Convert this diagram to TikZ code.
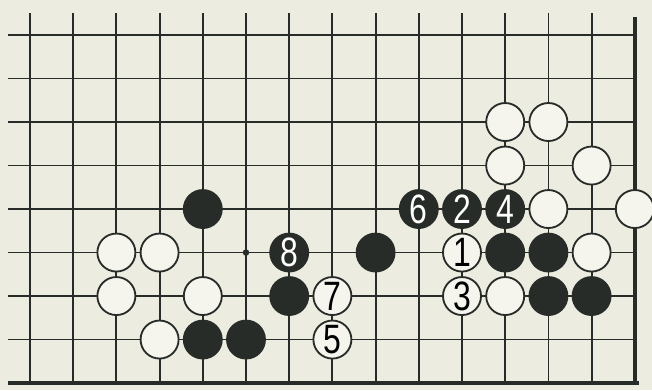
\documentclass[tikz,border=0pt]{standalone}
\usepackage{fontspec}
\setmainfont{Liberation Sans}
\definecolor{paper}{RGB}{236,236,224}
\definecolor{ink}{RGB}{40,44,40}
\newcommand{\dig}[1]{\scalebox{0.78}[1]{#1}}
\tikzset{
  gridline/.style={draw=ink, line width=1.2pt},
  edgeline/.style={draw=ink, line width=2.4pt},
  wstone/.style={circle, draw=ink, line width=1.2pt, fill=paper!55!white,
    minimum size=0.88cm, inner sep=0pt,
    font=\fontsize{27}{27}\selectfont},
  bstone/.style={circle, draw=ink, fill=ink, line width=1.2pt,
    minimum size=0.88cm, inner sep=0pt, text=white,
    font=\fontsize{27}{27}\selectfont}
}
\begin{document}
\begin{tikzpicture}[x=1cm, y=1.007cm]
        % paper
        \fill[paper] (-0.694,0.805) rectangle (14.398,-8.161);
        \useasboundingbox (-0.694,0.805) rectangle (14.398,-8.161);

        % grid
        \foreach \i in {0,...,13}
          \draw[gridline] (\i,0.5) -- (\i,-8);
        \foreach \j in {0,...,7}
          \draw[gridline] (-0.5,-\j) -- (14,-\j);
        \draw[edgeline] (14,0.41) -- (14,-8);
        \draw[edgeline] (-0.5,-8) -- (14.1,-8);
        \fill[ink] (5,-5) circle (0.075);

        % white stones
        \foreach \i/\j in {11/2,12/2,11/3,13/3,12/4,14/4,2/5,3/5,13/5,
                           2/6,4/6,11/6,3/7}
          \node[wstone] (w\i-\j) at (\i,-\j) {};

        % black stones
        \foreach \i/\j in {4/4,8/5,11/5,12/5,6/6,12/6,13/6,4/7,5/7}
          \node[bstone] (b\i-\j) at (\i,-\j) {};

        % numbered moves
        \node[wstone] (m1) at (10,-5) {\dig{1}};
        \node[bstone] (m2) at (10,-4) {\dig{2}};
        \node[wstone] (m3) at (10,-6) {\dig{3}};
        \node[bstone] (m4) at (11,-4) {\dig{4}};
        \node[wstone] (m5) at (7,-7) {\dig{5}};
        \node[bstone] (m6) at (9,-4) {\dig{6}};
        \node[wstone] (m7) at (7,-6) {\dig{7}};
        \node[bstone] (m8) at (6,-5) {\dig{8}};
\end{tikzpicture}
\end{document}
